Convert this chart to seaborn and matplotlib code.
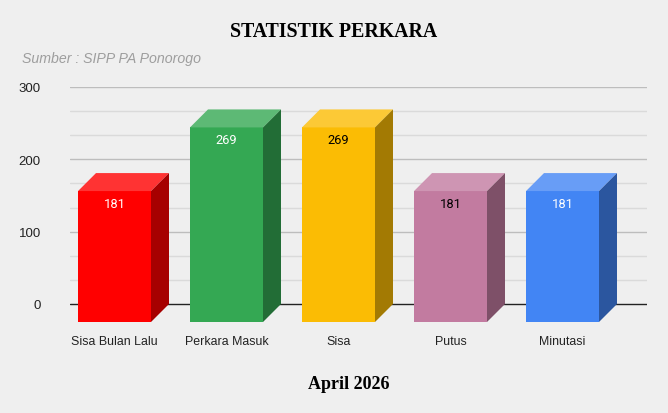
import numpy as np
import pandas as pd
import seaborn as sns
import matplotlib.pyplot as plt
from matplotlib.patches import Polygon
from matplotlib.colors import to_rgb

# data
categories = ['Sisa Bulan Lalu', 'Perkara Masuk', 'Sisa', 'Putus', 'Minutasi']
values = [181, 269, 269, 181, 181]
colors = ['#FF0000', '#34A853', '#FBBC04', '#C27BA0', '#4285F4']
label_colors = ['white', 'white', 'black', 'black', 'white']

sns.set_theme(style='white')
plt.rcParams['font.family'] = ['Liberation Sans', 'DejaVu Sans']

bg = '#EFEFEF'
fig = plt.figure(figsize=(6.68, 4.14), dpi=100, facecolor=bg)
ax = fig.add_axes([70/668, 1 - 330/414, 577/668, 242/414])
ax.set_facecolor(bg)

df = pd.DataFrame({'kategori': categories, 'jumlah': values})
w = 73/112          # front face width (category units)
dx = 18/112         # depth offset in x
dz = 18/(217/300)   # depth offset in y (data units)

sns.barplot(data=df, x='kategori', y='jumlah', hue='kategori', palette=colors,
            width=w, legend=False, saturation=1, ax=ax, zorder=3)

# move front faces down-left and add side/top faces
for i, p in enumerate(ax.patches):
    v = values[i]
    p.set_y(-dz)
    p.set_linewidth(0)
    c = np.array(to_rgb(colors[i]))
    side = c * 0.65
    top = c + (1 - c) * 0.2
    x0 = i - w/2
    x1 = i + w/2
    ax.add_patch(Polygon([(x0, v - dz), (x1, v - dz), (x1 + dx, v), (x0 + dx, v)],
                         closed=True, facecolor=top, lw=0, zorder=3))
    ax.add_patch(Polygon([(x1, -dz), (x1 + dx, 0), (x1 + dx, v), (x1, v - dz)],
                         closed=True, facecolor=side, lw=0, zorder=3))
    ax.text(i, v - dz - 16.5, str(v), ha='center', va='center',
            color=label_colors[i], fontsize=9.3, family=['Roboto', 'DejaVu Sans'], zorder=4)

ax.set_xlim(-44.5/112, (647 - 114.5)/112)
ax.set_ylim(-(330 - 305)/(217/300), 300)

# gridlines
for g in np.arange(0, 300.1, 100/3):
    if abs(g - round(g/100)*100) < 1e-6:
        col = '#222222' if g == 0 else '#BDBDBD'
    else:
        col = '#DADADA'
    ax.axhline(g, color=col, lw=1, zorder=1)

ax.set_yticks([0, 100, 200, 300])
ax.tick_params(axis='y', length=0, pad=21, labelsize=9.5, labelcolor='#222222')
ax.tick_params(axis='x', length=0, pad=4.5, labelsize=8.9, labelcolor='#222222')
ax.set_xlabel('')
ax.set_ylabel('')
sns.despine(ax=ax, left=True, bottom=True)

fig.text(0.5, 1 - 32/414, 'STATISTIK PERKARA', ha='center', va='center', color='black',
         fontsize=14.3, fontweight='bold', family=['Liberation Serif', 'DejaVu Serif'])
fig.text(22/668, 1 - 59/414, 'Sumber : SIPP PA Ponorogo', ha='left', va='center',
         fontsize=10.2, style='italic', color='#9E9E9E')
fig.text(349/668, 1 - 385/414, 'April 2026', ha='center', va='center', color='black',
         fontsize=13, fontweight='bold', family=['Liberation Serif', 'DejaVu Serif'])

fig.savefig('out.png', dpi=100, facecolor=bg)
